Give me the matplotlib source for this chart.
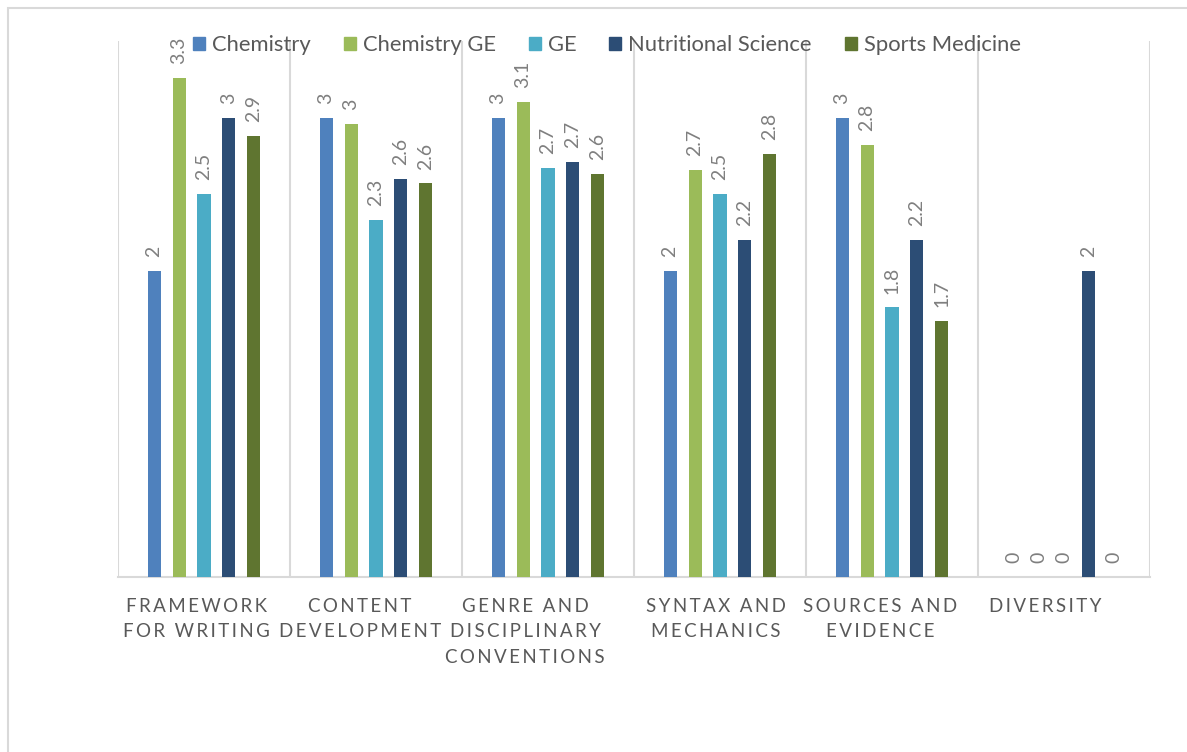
import matplotlib
matplotlib.use("Agg")
import matplotlib.pyplot as plt
from matplotlib.patches import Patch, Rectangle
import matplotlib.transforms as mtransforms
import numpy as np

plt.rcParams['font.family'] = ['Lato', 'DejaVu Sans']

categories = ["FRAMEWORK\nFOR WRITING", "CONTENT\nDEVELOPMENT",
              "GENRE AND\nDISCIPLINARY\nCONVENTIONS", "SYNTAX AND\nMECHANICS",
              "SOURCES AND\nEVIDENCE", "DIVERSITY"]
series_names = ["Chemistry", "Chemistry GE", "GE", "Nutritional Science", "Sports Medicine"]
chemistry = [2.0, 3.0, 3.0, 2.0, 3.0, 0.0]
chemistry_ge = [3.26, 2.96, 3.1, 2.66, 2.82, 0.0]
ge = [2.5, 2.33, 2.67, 2.5, 1.76, 0.0]
nutritional_science = [3.0, 2.6, 2.71, 2.2, 2.2, 2.0]
sports_medicine = [2.88, 2.57, 2.63, 2.76, 1.67, 0.0]
series_values = [chemistry, chemistry_ge, ge, nutritional_science, sports_medicine]
colors = ["#4F81BD", "#9BBB59", "#4BACC6", "#2C4D75", "#5F7530"]

TEXT = "#595959"
LABEL = "#7F7F7F"
GRID = "#D9D9D9"

W, H = 1187, 752
fig = plt.figure(figsize=(W / 100, H / 100), dpi=100)
ax = fig.add_axes([118 / W, 1 - 577 / H, (1150 - 118) / W, (577 - 41) / H])

x = np.arange(len(categories))
step = 0.145
width = 0.076
for i, (vals, c) in enumerate(zip(series_values, colors)):
    pos = x + (i - 2) * step
    ax.bar(pos, vals, width=width, color=c, zorder=3)
    for px, v in zip(pos, vals):
        txt = f"{v:.1f}"
        if txt.endswith(".0"):
            txt = txt[:-2]
        ax.annotate(txt, (px, v), xytext=(0, 10), textcoords="offset points",
                    rotation=90, ha="center", va="bottom", fontsize=14,
                    color=LABEL)

ax.set_xlim(-0.5, len(categories) - 0.5)
ax.set_ylim(0, 3.5)
for b in np.arange(-0.5, len(categories), 1.0):
    ax.axvline(b, color=GRID, lw=1.5, zorder=1)
for s in ["left", "right", "top"]:
    ax.spines[s].set_visible(False)
ax.spines["bottom"].set_color(GRID)
ax.spines["bottom"].set_linewidth(1.5)
ax.set_yticks([])


def spaced(label):
    return "\n".join("\u2009".join(line) for line in label.split("\n"))


ax.set_xticks(x)
ax.set_xticklabels([spaced(c) for c in categories], fontsize=13.5, color=TEXT,
                   linespacing=1.6)
ax.tick_params(axis="x", length=0, pad=15)

# nudge each category label slightly left, as the letter-spaced text is laid out
label_shift_px = [-8, -16, -23, -4, -12, -19]
for lab, dx in zip(ax.get_xticklabels(), label_shift_px):
    lab.set_transform(lab.get_transform() +
                      mtransforms.Affine2D().translate(dx, 0))

handles = [Patch(facecolor=c, edgecolor=c) for c in colors]
fig.legend(handles, series_names, loc="center", ncol=5,
           bbox_to_anchor=(607 / W, 1 - 45 / H), frameon=False, fontsize=15.8,
           labelcolor=TEXT, handlelength=0.55, handleheight=0.55,
           handletextpad=0.32, columnspacing=1.5)

fig.add_artist(Rectangle((7.5 / W, -0.1), 1.2, 1.1 - 7.5 / H,
                         transform=fig.transFigure, fill=False,
                         edgecolor=GRID, lw=1.5))

fig.savefig("out.png", dpi=100)
